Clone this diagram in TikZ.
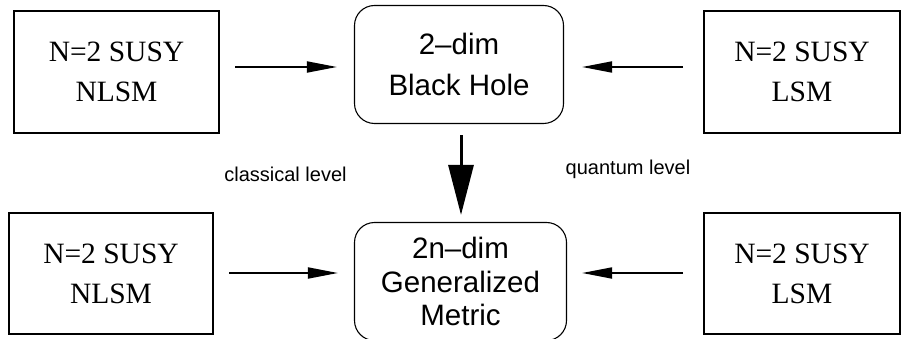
\documentclass[tikz,border=0pt]{standalone}
\usepackage{fontspec}
\setmainfont{Liberation Serif}
\newfontfamily\helv{Liberation Sans}
\usetikzlibrary{arrows.meta}

\tikzset{
  modelbox/.style={draw, line width=2pt, inner sep=0pt, align=center,
    font=\fontsize{29.5}{40}\selectfont},
  geombox/.style={draw, line width=1.1pt, rounded corners=20pt, inner sep=0pt,
    align=center},
  flow/.style={line width=1.8pt, -{Triangle[length=30pt,width=11pt]}},
  bigflow/.style={line width=3pt, -{Triangle[length=50pt,width=25pt]}},
  levellabel/.style={anchor=base, inner sep=0pt, font=\helv\fontsize{20}{24}\selectfont}
}

\begin{document}
\begin{tikzpicture}[x=1pt, y=-1pt]
  \useasboundingbox (0,0) rectangle (902,339);

  % sigma models on the left (non-linear) and right (linear)
  \node[modelbox, minimum width=205pt, minimum height=122pt] (tl) at (116.5,72) {N=2 SUSY\\NLSM};
  \node[modelbox, minimum width=196pt, minimum height=122pt] (tr) at (802,72) {N=2 SUSY\\LSM};
  \node[modelbox, minimum width=204pt, minimum height=121pt] (bl) at (111,273.5) {N=2 SUSY\\NLSM};
  \node[modelbox, minimum width=196pt, minimum height=121pt] (br) at (802,273.5) {N=2 SUSY\\LSM};

  % target geometries in the middle column
  \node[geombox, minimum width=209pt, minimum height=118pt,
        font=\helv\fontsize{29.5}{41}\selectfont] (bh) at (459,64.5) {2–dim\\Black Hole};
  \node[geombox, minimum width=212pt, minimum height=118pt,
        font=\helv\fontsize{29.5}{33.5}\selectfont] (bc) at (460.5,281.5) {2n–dim\\Generalized\\Metric};

  % horizontal maps
  \draw[flow] ([xshift=15pt,yshift=5pt]tl.east) -- ([xshift=-17pt,yshift=-2.5pt]bh.west);
  \draw[flow] ([xshift=-20pt,yshift=5pt]tr.west) -- ([xshift=18pt,yshift=-2.5pt]bh.east);
  \draw[flow] ([xshift=15pt,yshift=0.5pt]bl.east) -- ([xshift=-16pt,yshift=8.5pt]bc.west);
  \draw[flow] ([xshift=-20pt,yshift=0.5pt]br.west) -- ([xshift=15pt,yshift=8.5pt]bc.east);

  % generalisation step
  \draw[bigflow] ([xshift=2pt,yshift=-11pt]bh.south) -- ([xshift=0.5pt,yshift=7pt]bc.north);

  \node[levellabel] (cl) at (285.5,181.5) {classical level};
  \node[levellabel] (ql) at (628,175) {quantum level};
\end{tikzpicture}
\end{document}
